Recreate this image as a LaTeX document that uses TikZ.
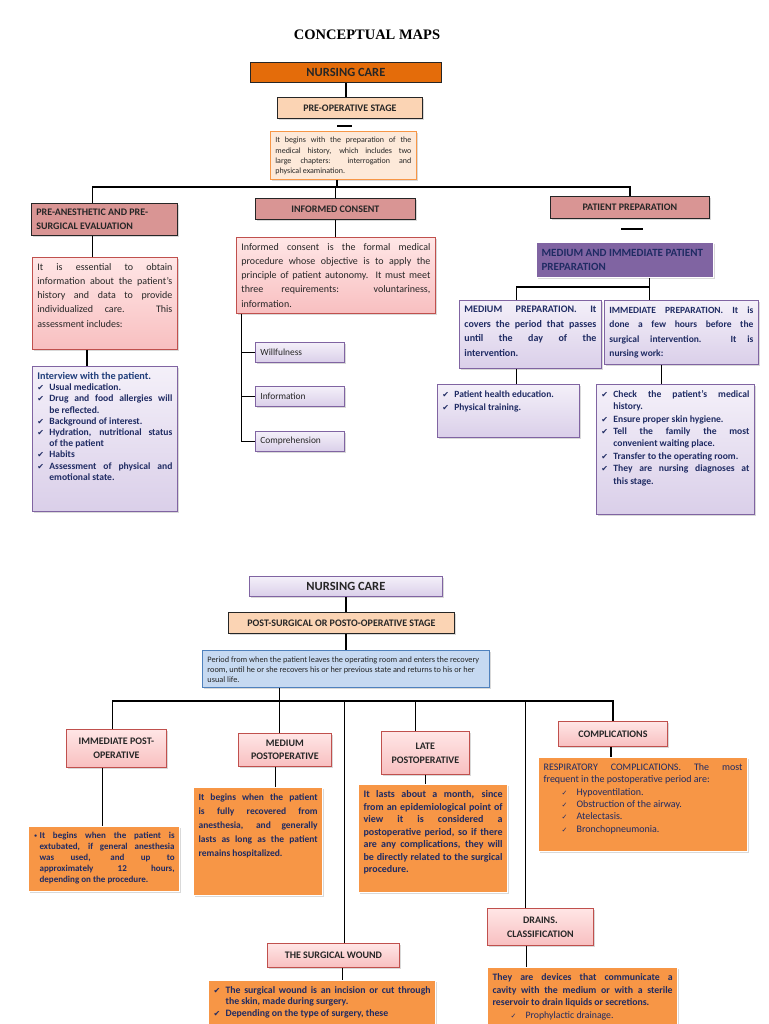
\documentclass[tikz,border=0pt]{standalone}
\usepackage{fontspec}
\setmainfont{Carlito}
\newfontfamily\titlefont{Liberation Serif}
\newfontfamily\symf{DejaVu Sans}
\usetikzlibrary{shadows}

\definecolor{deeporange}{HTML}{E46C0A}
\definecolor{peach}{HTML}{FBD4B4}
\definecolor{paleorange}{HTML}{FDE9D9}
\definecolor{boxorange}{HTML}{F79646}
\definecolor{rosy}{HTML}{D99594}
\definecolor{rosyedge}{HTML}{C0504D}
\definecolor{pinktop}{HTML}{FFE6E6}
\definecolor{pinkbot}{HTML}{F8BFC0}
\definecolor{lavtop}{HTML}{F4F0F9}
\definecolor{lavbot}{HTML}{DACFE9}
\definecolor{lavedge}{HTML}{8064A2}
\definecolor{plum}{HTML}{8064A2}
\definecolor{skyfill}{HTML}{C6D9F1}
\definecolor{skyedge}{HTML}{4F81BD}
\definecolor{navy}{HTML}{1F2B63}
\definecolor{titleblue}{HTML}{1F3D7A}
\definecolor{ink}{HTML}{262626}

\hyphenpenalty=10000
\tolerance=9999
\emergencystretch=8pt

% font size and line skip
\newcommand{\fs}[2]{\fontsize{#1}{#2}\selectfont}
% check item and bullet item
\newcommand{\ck}[1]{\par\hangindent=12pt\hangafter=1\noindent\makebox[12pt][l]{\symf\fontsize{8}{8}\selectfont ✔}#1}
\newcommand{\cki}[1]{\par\noindent\hspace*{18pt}\makebox[15pt][l]{\symf\fontsize{7}{7}\selectfont ✓}#1}
\newcommand{\bul}[1]{\par\hangindent=6pt\hangafter=1\noindent\makebox[6pt][l]{\symf\fontsize{6.5}{6.5}\selectfont •}#1}

% box with its text at the top: name, style, x, y, width, height, text
\newcommand{\cmbox}[7]{%
  \node[#2, anchor=north west] (#1) at (#3,#4)
    {\parbox[c][\dimexpr#6pt-6pt\relax][t]{\dimexpr#5pt-10pt\relax}{\vspace*{3pt}#7}};}
% box with its text in the middle
\newcommand{\cmhead}[7]{%
  \node[#2, anchor=north west] (#1) at (#3,#4)
    {\parbox[c][\dimexpr#6pt-6pt\relax][c]{\dimexpr#5pt-10pt\relax}{\centering #7}};}

\tikzset{
  softshadow/.style={drop shadow={opacity=.3, shadow xshift=1.2pt, shadow yshift=-1.5pt}},
  box/.style={draw, line width=0.8pt, inner xsep=5pt, inner ysep=3pt},
  link/.style={line width=1.8pt, black},
  darkhead/.style={box, fill=deeporange, draw=ink, text=ink},
  peachhead/.style={box, fill=peach, draw=ink, text=ink, softshadow},
  rosehead/.style={box, fill=rosy, draw=ink, text=ink, softshadow},
  palebox/.style={box, fill=paleorange, draw=boxorange, text=ink, softshadow},
  pinkbox/.style={box, top color=pinktop, bottom color=pinkbot, draw=rosyedge, text=ink, softshadow},
  pinkhead/.style={pinkbox, text=ink},
  lavbox/.style={box, top color=lavtop, bottom color=lavbot, draw=lavedge, text=navy, softshadow},
  lavhead/.style={lavbox, text=ink},
  plumbox/.style={box, fill=plum, draw=white, line width=1.2pt, text=navy, softshadow},
  skybox/.style={box, fill=skyfill, draw=skyedge, text=ink, softshadow},
  orangebox/.style={box, fill=boxorange, draw=white, line width=1.2pt, text=navy, softshadow},
}

\begin{document}
\begin{tikzpicture}[x=1pt, y=-1pt]
    \useasboundingbox (0,0) rectangle (768,1024);
    \clip (0,0) rectangle (768,1024);

    \node[font=\titlefont\bfseries\fs{14.5}{16}] (title) at (367,35) {CONCEPTUAL MAPS};

    % Pre-operative stage
    \cmhead{nc1}{darkhead}{250}{62}{191}{20}{\fs{12.5}{13}\bfseries NURSING CARE}
    \cmhead{pre}{peachhead}{277}{97}{145}{21}{\fs{10}{11}\bfseries PRE-OPERATIVE STAGE}
    \draw[link] (337,126) -- (352,126);
    \cmbox{desc}{palebox}{270}{131}{146}{48}{\fs{8}{10.3}It begins with the preparation of the\linebreak medical history, which includes two\linebreak large chapters: interrogation and\linebreak physical examination.}

    \cmhead{eval}{rosehead}{31}{203}{146}{32}{\raggedright\fs{10}{14}\bfseries PRE-ANESTHETIC AND PRE-\\SURGICAL EVALUATION}
    \cmbox{evaltxt}{pinkbox}{32}{257}{145}{92}{\fs{10}{14.2}It is essential to obtain\linebreak information about the patient's\linebreak history and data to provide\linebreak individualized care. This\linebreak assessment includes:}
    \cmbox{interview}{lavbox}{32}{366}{145}{145}{\bfseries\fs{9.6}{11.2}{\color{titleblue}\fs{10.2}{11.2}Interview with the patient.}
      \ck{Usual medication.}
      \ck{Drug and food allergies will\linebreak be reflected.}
      \ck{Background of interest.}
      \ck{Hydration, nutritional status\linebreak of the patient}
      \ck{Habits}
      \ck{Assessment of physical and\linebreak emotional state.}}

    \cmhead{consent}{rosehead}{255}{198}{160}{21}{\fs{10}{11}\bfseries INFORMED CONSENT}
    \cmbox{consenttxt}{pinkbox}{236}{237}{199}{76}{\fs{10}{14.2}Informed consent is the formal medical\linebreak procedure whose objective is to apply the\linebreak principle of patient autonomy. It must meet\linebreak three requirements: voluntariness,\linebreak information.}
    \cmhead{will}{lavbox}{255}{342}{89}{20}{\raggedright\color{ink}\fs{9.4}{10}Willfulness}
    \cmhead{info}{lavbox}{255}{386}{89}{20}{\raggedright\color{ink}\fs{9.4}{10}Information}
    \cmhead{compr}{lavbox}{255}{431}{89}{20}{\raggedright\color{ink}\fs{9.4}{10}Comprehension}

    \cmhead{prep}{rosehead}{550}{196}{159}{22}{\fs{10}{11}\bfseries PATIENT PREPARATION}
    \draw[link] (621,229) -- (643,229);
    \cmhead{mip}{plumbox}{536}{242}{177}{35}{\raggedright\fs{11}{14.3}\bfseries MEDIUM AND IMMEDIATE PATIENT\\PREPARATION}
    \cmbox{medprep}{lavbox}{459}{300}{142}{68}{\bfseries\fs{10}{14.5}MEDIUM PREPARATION. It\linebreak covers the period that passes\linebreak until the day of the\linebreak intervention.}
    \cmbox{immprep}{lavbox}{604}{300}{154}{64}{\bfseries\fs{9.5}{14.5}IMMEDIATE PREPARATION. It is\linebreak done a few hours before the\linebreak surgical intervention. It is\linebreak nursing work:}
    \cmbox{medlist}{lavbox}{437}{384}{142}{53}{\bfseries\fs{9.5}{13}\ck{Patient health education.}\ck{Physical training.}}
    \cmbox{immlist}{lavbox}{596}{384}{158}{130}{\bfseries\fs{9.6}{12.4}
      \ck{Check the patient's medical\linebreak history.}
      \ck{Ensure proper skin hygiene.}
      \ck{Tell the family the most\linebreak convenient waiting place.}
      \ck{Transfer to the operating room.}
      \ck{They are nursing diagnoses at\linebreak this stage.}}

    % Connectors of the pre-operative map
    \draw[link] (nc1.south) -- (nc1.south |- pre.north);
    \coordinate (bar1) at (337,187);
    \draw[link] (desc.south -| bar1) -- (bar1);
    \draw[link] ([xshift=-12pt]eval.north) |- (prep.north |- bar1) -- (prep.north);
    \draw[link] (consent.north |- bar1) -- (consent.north);
    \draw[link] ([xshift=-12pt]eval.south) -- ([xshift=-12pt]eval.south |- evaltxt.north);
    \draw[link] ([xshift=-18pt]evaltxt.south) -- ([xshift=-18pt]evaltxt.south |- interview.north);
    \draw[link] (consent.south) -- (consent.south |- consenttxt.north);
    \coordinate (trunk) at ([xshift=5.5pt]consenttxt.south west);
    \draw[link] (trunk) |- (compr.west);
    \foreach \n in {will,info}
        \draw[link] (\n.west -| trunk) -- (\n.west);
    \coordinate (bar2) at (649.5,287);
    \draw[link] (mip.south -| bar2) -- (bar2) -| ([xshift=-14pt]medprep.north);
    \draw[link] (bar2) -- (bar2 |- immprep.north);
    \draw[link] ([xshift=-14pt]medprep.south) -- ([xshift=-14pt]medprep.south |- medlist.north);
    \draw[link] ([xshift=-20pt]immprep.south) -- ([xshift=-20pt]immprep.south |- immlist.north);

    % Post-operative stage
    \cmhead{nc2}{lavhead}{249}{576}{193}{20}{\fs{12.5}{13}\bfseries NURSING CARE}
    \cmhead{post}{peachhead}{228}{612}{226}{21}{\fs{10}{11}\bfseries POST-SURGICAL OR POSTO-OPERATIVE STAGE}
    \cmbox{period}{skybox}{202}{650}{287}{37}{\raggedright\fs{8.3}{10}Period from when the patient leaves the operating room and enters the recovery room, until he or she recovers his or her previous state and returns to his or her usual life.}

    \cmhead{immpo}{pinkhead}{66}{729}{100}{38}{\fs{10}{14}\bfseries IMMEDIATE POST-\\OPERATIVE}
    \cmhead{medpo}{pinkhead}{238}{733}{93}{33}{\fs{10}{13}\bfseries MEDIUM\\POSTOPERATIVE}
    \cmhead{latepo}{pinkhead}{381}{731}{88}{43}{\fs{10}{14}\bfseries LATE\\POSTOPERATIVE}
    \cmhead{compl}{pinkhead}{558}{721}{109}{25}{\fs{10}{11}\bfseries COMPLICATIONS}
    \cmhead{wound}{pinkhead}{267}{943}{132}{24}{\fs{10}{11}\bfseries THE SURGICAL WOUND}
    \cmhead{drains}{pinkhead}{487}{908}{106}{37}{\fs{10}{14}\bfseries DRAINS.\\CLASSIFICATION}

    \cmbox{immtxt}{orangebox}{28}{826}{151}{65}{\bfseries\fs{9}{11}\bul{It begins when the patient is\linebreak extubated, if general anesthesia\linebreak was used, and up to\linebreak approximately 12 hours,\linebreak depending on the procedure.}}
    \cmbox{medtxt}{orangebox}{193}{787}{129}{108}{\bfseries\fs{9.5}{14}It begins when the patient\linebreak is fully recovered from\linebreak anesthesia, and generally\linebreak lasts as long as the patient\linebreak remains hospitalized.}
    \cmbox{latetxt}{orangebox}{358}{784}{149}{108}{\bfseries\fs{10}{12.5}It lasts about a month, since\linebreak from an epidemiological point of\linebreak view it is considered a\linebreak postoperative period, so if there\linebreak are any complications, they will\linebreak be directly related to the surgical\linebreak procedure.}
    \cmbox{compltxt}{orangebox}{538}{757}{209}{94}{\fs{10}{12.3}RESPIRATORY COMPLICATIONS. The most\linebreak frequent in the postoperative period are:
      \cki{Hypoventilation.}
      \cki{Obstruction of the airway.}
      \cki{Atelectasis.}
      \cki{Bronchopneumonia.}}
    \cmbox{woundtxt}{orangebox}{208}{980}{227}{70}{\bfseries\fs{9.8}{11.5}
      \ck{The surgical wound is an incision or cut through\linebreak the skin, made during surgery.}
      \ck{Depending on the type of surgery, these}}
    \cmbox{drainstxt}{orangebox}{487}{967}{190}{80}{\bfseries\fs{9.8}{12.7}They are devices that communicate a\linebreak cavity with the medium or with a sterile\linebreak reservoir to drain liquids or secretions.
      {\mdseries\cki{Prophylactic drainage.}}}

    % Connectors of the post-operative map
    \draw[link] (nc2.south) -- (nc2.south |- post.north);
    \draw[link] (post.south -| nc2.south) -- (period.north -| nc2.south);
    \coordinate (bar3) at (279.5,701);
    \draw[link] (period.south -| bar3) -- (bar3 |- medpo.north);
    \draw[link] ([xshift=-4pt]immpo.north) |- (compl.north |- bar3) -- (compl.north);
    \draw[link] ([xshift=-10pt]latepo.north) -- ([xshift=-10pt]latepo.north |- bar3);
    \draw[link] ([xshift=11pt]wound.north) -- ([xshift=11pt]wound.north |- bar3);
    \draw[link] ([xshift=-15pt]drains.north) -- ([xshift=-15pt]drains.north |- bar3);
    \draw[link] ([xshift=-14pt]immpo.south) -- ([xshift=-14pt]immpo.south |- immtxt.north);
    \draw[link] ([xshift=-9.5pt]medpo.south) -- ([xshift=-9.5pt]medpo.south |- medtxt.north);
    \draw[link] (latepo.south) -- (latepo.south |- latetxt.north);
    \draw[link] ([xshift=-2pt]compl.south) -- ([xshift=-2pt]compl.south |- compltxt.north);
    \draw[link] ([xshift=9pt]wound.south) -- ([xshift=9pt]wound.south |- woundtxt.north);
    \draw[link] ([xshift=-14pt]drains.south) -- ([xshift=-14pt]drains.south |- drainstxt.north);
\end{tikzpicture}
\end{document}
